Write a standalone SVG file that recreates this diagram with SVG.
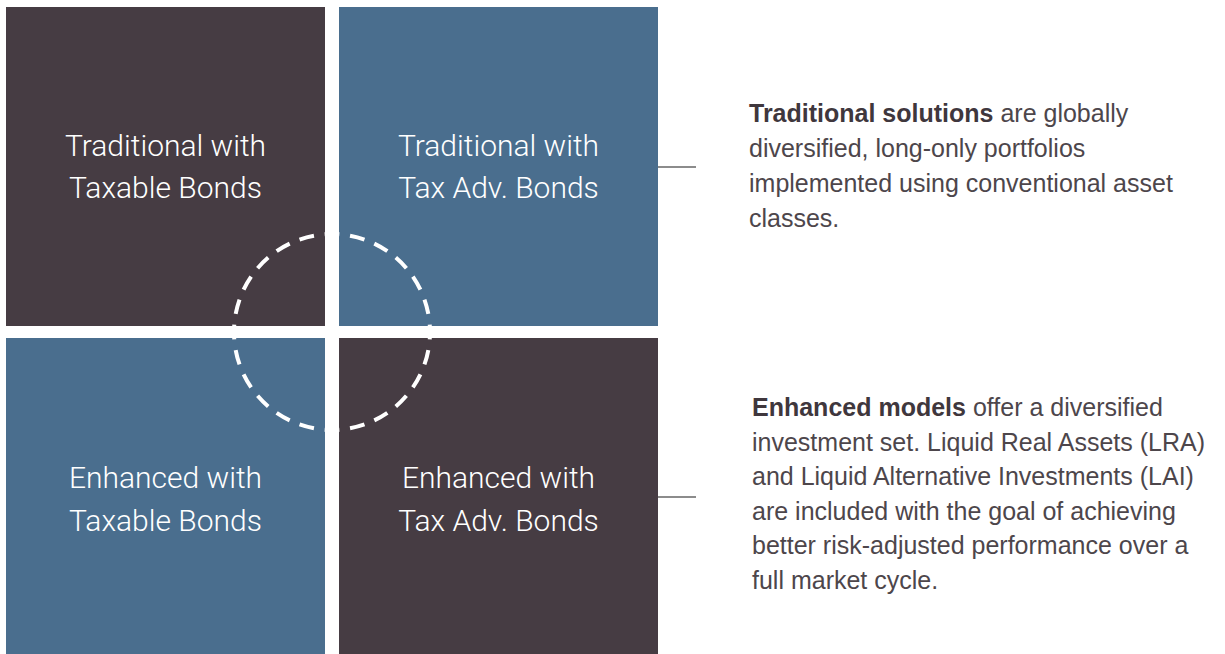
<svg xmlns="http://www.w3.org/2000/svg" width="1225" height="654" viewBox="0 0 1225 654">
<style>
.dark{fill:#463c43}
.blue{fill:#4a6e8e}
.lbl{font-family:Roboto,"Liberation Sans",Arial,sans-serif;font-weight:300;font-size:30px;fill:#ffffff;text-anchor:middle}
.desc{font-family:"Liberation Sans",Arial,sans-serif;font-size:25px;fill:#4d464b}
.desc .b{font-weight:bold;fill:#3f373d}
.conn{stroke:#8c8c8c;stroke-width:2;fill:none}
</style>
<rect width="1225" height="654" fill="#ffffff"/>
<g id="node-trad-taxable">
<rect class="dark" x="6" y="7" width="319" height="319"/>
<text class="lbl" x="165.5" y="156">Traditional with</text>
<text class="lbl" x="165.5" y="198">Taxable Bonds</text>
</g>
<g id="node-trad-taxadv">
<rect class="blue" x="339" y="7" width="319" height="319"/>
<text class="lbl" x="498.5" y="156">Traditional with</text>
<text class="lbl" x="498.5" y="198">Tax Adv. Bonds</text>
</g>
<g id="node-enh-taxable">
<rect class="blue" x="6" y="338" width="319" height="319"/>
<text class="lbl" x="165.5" y="488">Enhanced with</text>
<text class="lbl" x="165.5" y="531">Taxable Bonds</text>
</g>
<g id="node-enh-taxadv">
<rect class="dark" x="339" y="338" width="319" height="319"/>
<text class="lbl" x="498.5" y="488">Enhanced with</text>
<text class="lbl" x="498.5" y="531">Tax Adv. Bonds</text>
</g>
<g id="overlap-circle">
<circle cx="332" cy="332" r="98" fill="none" stroke="#ffffff" stroke-width="4" pathLength="240" stroke-dasharray="5.85 4.15" stroke-dashoffset="2.925"/>
</g>
<g id="connectors">
<line class="conn" x1="658" y1="167" x2="696" y2="167"/>
<line class="conn" x1="658" y1="497" x2="696" y2="497"/>
</g>
<g id="desc-traditional">
<text class="desc" x="749" y="122"><tspan class="b">Traditional solutions</tspan> are globally</text>
<text class="desc" x="749" y="157">diversified, long-only portfolios</text>
<text class="desc" x="749" y="192">implemented using conventional asset</text>
<text class="desc" x="749" y="227">classes.</text>
</g>
<g id="desc-enhanced">
<text class="desc" x="752" y="416"><tspan class="b">Enhanced models</tspan> offer a diversified</text>
<text class="desc" x="752" y="450.5">investment set. Liquid Real Assets (LRA)</text>
<text class="desc" x="752" y="485">and Liquid Alternative Investments (LAI)</text>
<text class="desc" x="752" y="519.5">are included with the goal of achieving</text>
<text class="desc" x="752" y="554">better risk-adjusted performance over a</text>
<text class="desc" x="752" y="588.5">full market cycle.</text>
</g>
</svg>
